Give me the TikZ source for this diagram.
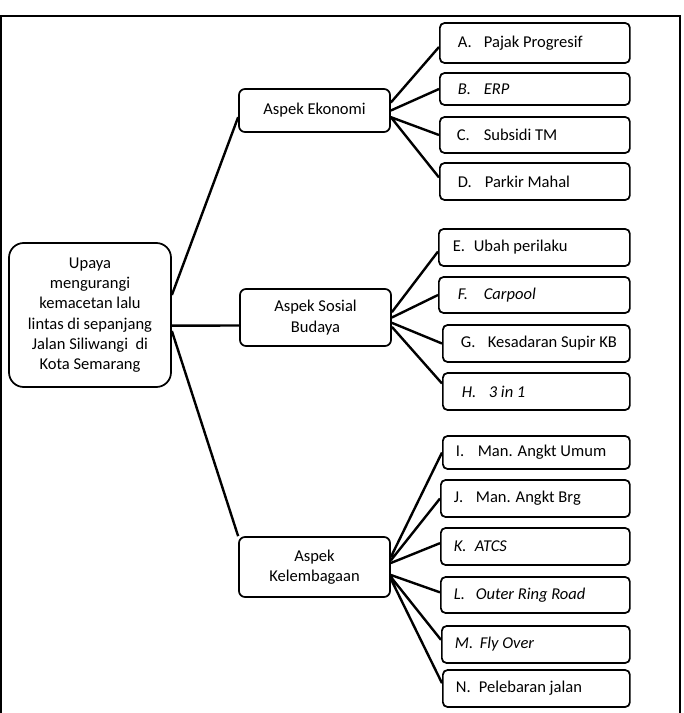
\documentclass[tikz,border=0pt]{standalone}
\usepackage{fontspec}
\setmainfont{Carlito}
\newcommand{\itm}[3]{\spaceskip=0pt\xspaceskip=0pt\mbox{\makebox[#1][l]{#2}#3}}

\begin{document}
\begin{tikzpicture}[
                x=0.75pt, y=-0.75pt,
                every node/.style={font=\fontsize{12.4}{15.2}\selectfont},
                upayabox/.style={draw, line width=1.3pt, rounded corners=11pt, minimum width=121.5pt, minimum height=108pt, align=center, inner sep=0pt},
                aspekbox/.style={draw, line width=1.3pt, rounded corners=4.5pt, minimum width=113.25pt, align=center, inner sep=0pt},
                leafbox/.style={draw, line width=1.3pt, rounded corners=3.5pt, anchor=west, align=left, inner ysep=0pt},
                conn/.style={line width=1.8pt}
            ]

                \useasboundingbox (0,0) rectangle (684,713);
                \draw[line width=1.6pt] (1,713) -- (1,16) -- (680,16) -- (680,713);

                % root
                \node[upayabox] (upaya) at (90,315) {Upaya\\ mengurangi\\ kemacetan lalu\\ lintas di sepanjang\\ Jalan Siliwangi\ \ di\\ Kota Semarang};

                % aspek
                \node[aspekbox, minimum height=32.25pt] (ekonomi) at (314.5,110.5) {Aspek Ekonomi};
                \node[aspekbox, minimum height=42.75pt] (sosial) at (315.5,317.5) {Aspek Sosial\\ Budaya};
                \node[aspekbox, minimum height=45pt] (lembaga) at (314.5,567) {Aspek\\ Kelembagaan};

                % ekonomi
                \node[leafbox, minimum height=30pt, inner xsep=13.5pt, text width=115.5pt] (pajak) at (439,43) {\itm{19.5pt}{A.}{Pajak Progresif}};
                \node[leafbox, minimum height=24pt, inner xsep=13.5pt, text width=115.5pt] (erp) at (439,89) {\itshape\itm{19.5pt}{B.}{ERP}};
                \node[leafbox, minimum height=27pt, inner xsep=12.75pt, text width=117pt] (subsidi) at (439,135) {\itm{20.25pt}{C.}{Subsidi TM}};
                \node[leafbox, minimum height=27.75pt, inner xsep=13.5pt, text width=115.5pt] (parkir) at (439,181.5) {\itm{20.25pt}{D.}{Parkir Mahal}};

                % sosial budaya
                \node[leafbox, minimum height=27.75pt, inner xsep=10.5pt, text width=122.25pt] (perilaku) at (438,247.5) {\itm{15.75pt}{E.}{Ubah perilaku}};
                \node[leafbox, minimum height=27pt, inner xsep=14.25pt, text width=114.75pt] (carpool) at (438,295) {\itshape\itm{19.5pt}{F.}{Carpool}};
                \node[leafbox, minimum height=27.75pt, inner xsep=13.5pt, text width=113.25pt] (supir) at (442,343.5) {\itm{20.25pt}{G.}{Kesadaran Supir KB}};
                \node[leafbox, minimum height=27.75pt, inner xsep=14.25pt, text width=111.75pt] (tigasatu) at (442,391.5) {\itshape\itm{20.25pt}{H.}{3 in 1}};

                % kelembagaan
                \node[leafbox, minimum height=24.75pt, inner xsep=9.75pt, text width=120.75pt] (umum) at (442,452.5) {\itm{16.5pt}{I.}{Man. Angkt Umum}};
                \node[leafbox, minimum height=27.75pt, inner xsep=9.75pt, text width=122.25pt] (barang) at (440,498.5) {\itm{16.5pt}{J.}{Man. Angkt Brg}};
                \node[leafbox, minimum height=27.75pt, inner xsep=9.75pt, text width=122.25pt] (atcs) at (440,546.5) {\itshape\itm{15.75pt}{K.}{ATCS}};
                \node[leafbox, minimum height=27pt, inner xsep=9.75pt, text width=122.25pt] (ringroad) at (440,595) {\itshape\itm{16.5pt}{L.}{Outer Ring Road}};
                \node[leafbox, minimum height=27.75pt, inner xsep=9.75pt, text width=121.5pt] (flyover) at (441,644.5) {\itshape\itm{18.75pt}{M.}{Fly Over}};
                \node[leafbox, minimum height=27.75pt, inner xsep=9.75pt, text width=120.75pt] (pelebaran) at (442,688.5) {\itm{17.25pt}{N.}{Pelebaran jalan}};

                \draw[conn]
                    ([yshift=15pt]upaya.east) -- ([yshift=-5pt]ekonomi.west)
                    ([yshift=-8pt]upaya.east) -- ([yshift=-6pt]sosial.west)
                    ([yshift=-12pt]upaya.east) -- (lembaga.north west);

                \draw[conn]
                    ([yshift=6pt]ekonomi.east) -- ([yshift=-3pt]pajak.west)
                    (ekonomi.east) -- (erp.west)
                    ([yshift=-5pt]ekonomi.east) -- (subsidi.west)
                    ([yshift=-5pt]ekonomi.east) -- ([yshift=3pt]parkir.west);

                \draw[conn]
                    ([yshift=4pt]sosial.east) -- ([yshift=-3pt]perilaku.west)
                    (sosial.east) -- (carpool.west)
                    ([yshift=-4pt]sosial.east) -- (supir.west)
                    ([yshift=-7pt]sosial.east) -- ([yshift=6pt]tigasatu.west);

                \draw[conn]
                    ([yshift=7.5pt]lembaga.east) -- (umum.west)
                    ([yshift=5pt]lembaga.east) -- (barang.west)
                    ([yshift=3pt]lembaga.east) -- ([yshift=2.5pt]atcs.west)
                    ([yshift=-6pt]lembaga.east) -- ([yshift=2pt]ringroad.west)
                    ([yshift=-7.5pt]lembaga.east) -- ([yshift=3.5pt]flyover.west)
                    ([yshift=-9pt]lembaga.east) -- ([yshift=4pt]pelebaran.west);

            \end{tikzpicture}
\end{document}
